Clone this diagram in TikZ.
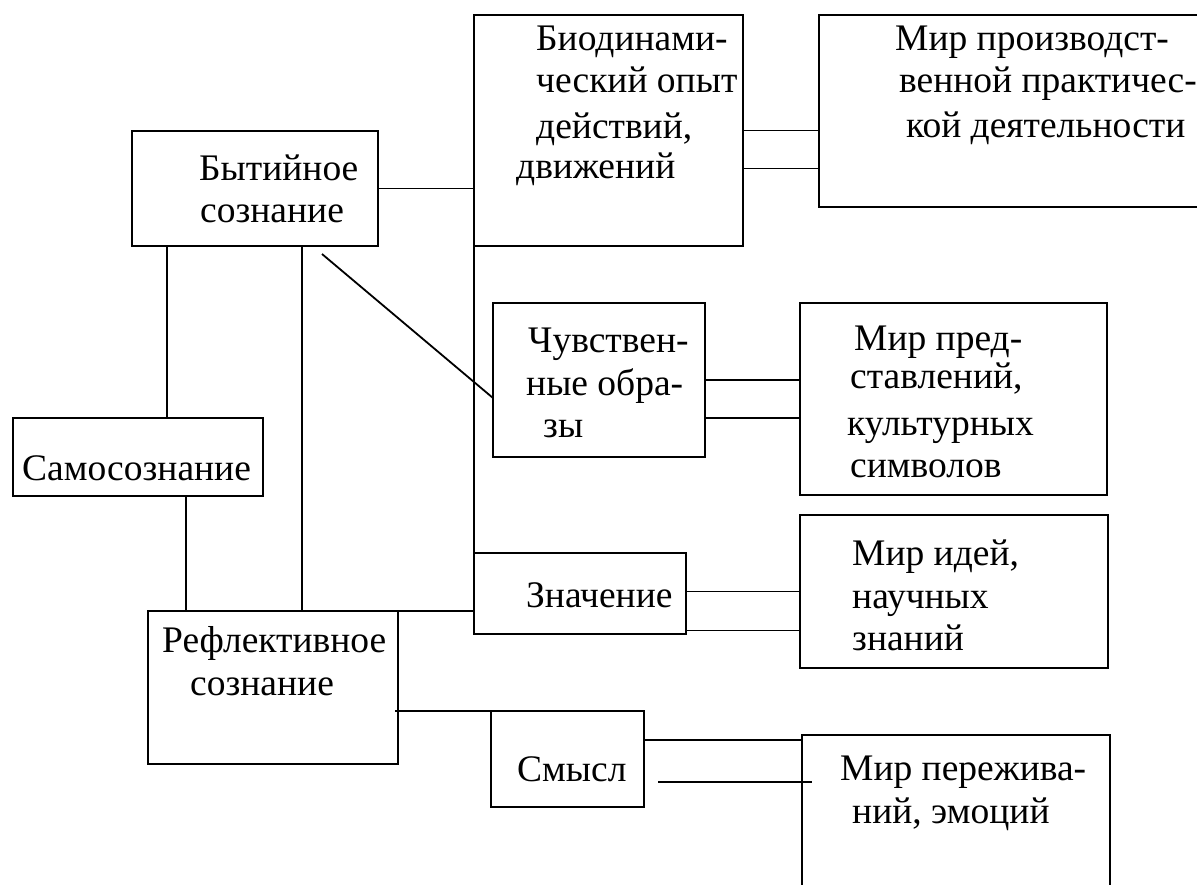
\documentclass[tikz,border=0pt]{standalone}
\usepackage{fontspec}
\setmainfont{Liberation Serif}
\usetikzlibrary{calc}
\begin{document}
\begin{tikzpicture}[x=1pt,y=-1pt,
  box/.style={draw,line width=1.8pt,inner sep=0pt,outer sep=0pt,anchor=north west},
  wire/.style={line width=1.8pt},
  txt/.style={inner sep=0pt,anchor=base west,font=\fontsize{37.5}{41}\selectfont}]
\clip (0,0) rectangle (1197,884);
\fill[white] (0,0) rectangle (1197,884);
% boxes
\node[box,minimum width=246pt,minimum height=115pt] (byt) at (132,131) {};
\node[box,minimum width=269pt,minimum height=231pt] (bio) at (474,15) {};
\node[box,minimum width=400pt,minimum height=192pt] (mirA) at (819,15) {};
\node[box,minimum width=212pt,minimum height=154pt] (chuv) at (493,303) {};
\node[box,minimum width=307pt,minimum height=192pt] (mirB) at (800,303) {};
\node[box,minimum width=250pt,minimum height=78pt] (samo) at (13,418) {};
\node[box,minimum width=250pt,minimum height=153pt] (refl) at (148,611) {};
\node[box,minimum width=212pt,minimum height=81pt] (znach) at (474,553) {};
\node[box,minimum width=308pt,minimum height=153pt] (mirC) at (800,515) {};
\node[box,minimum width=153pt,minimum height=96pt] (smysl) at (491,711) {};
\node[box,minimum width=308pt,minimum height=200pt] (mirD) at (802,735) {};
% texts
\node[txt] (t1) at (199,180) {Бытийное};
\node[txt] (t2) at (200,222) {сознание};
\node[txt] (t3) at (536,50) {Биодинами-};
\node[txt] (t4) at (536,92) {ческий опыт};
\node[txt] (t5) at (536,138) {действий,};
\node[txt] (t6) at (516,178) {движений};
\node[txt] (t7) at (895,50) {Мир производст-};
\node[txt] (t8) at (899,92) {венной практичес-};
\node[txt] (t9) at (906,137) {кой деятельности};
\node[txt] (t10) at (528,352) {Чувствен-};
\node[txt] (t11) at (526,395) {ные обра-};
\node[txt] (t12) at (543,437) {зы};
\node[txt] (t13) at (854,350) {Мир пред-};
\node[txt] (t14) at (850,388) {ставлений,};
\node[txt] (t15) at (847,435) {культурных};
\node[txt] (t16) at (850,477) {символов};
\node[txt] (t17) at (22,480) {Самосознание};
\node[txt] (t18) at (526,607) {Значение};
\node[txt] (t19) at (852,565) {Мир идей,};
\node[txt] (t20) at (852,608) {научных};
\node[txt] (t21) at (852,650) {знаний};
\node[txt] (t22) at (162,652) {Рефлективное};
\node[txt] (t23) at (190,695) {сознание};
\node[txt] (t24) at (517,781) {Смысл};
\node[txt] (t25) at (840,780) {Мир пережива-};
\node[txt] (t26) at (852,823) {ний, эмоций};
% helper coordinates
\coordinate (bioL) at ([yshift=-38pt]bio.east);
\coordinate (chuvR) at ([yshift=-38pt]chuv.east);
\coordinate (znU) at ([yshift=2pt]znach.east);
\coordinate (znL) at ([yshift=-37pt]znach.east);
\coordinate (bytA) at ([xshift=35pt]byt.south west);
\coordinate (bytB) at ([xshift=170pt]byt.south west);
\coordinate (samoB) at ([xshift=173pt]samo.south west);
\coordinate (d0) at (322,254);
\coordinate (d1) at ([yshift=-18pt]chuv.west);
\coordinate (rflS) at (395,711);
\coordinate (smU) at ([yshift=-29pt]smysl.north east);
\coordinate (smL0) at (658,782);
\coordinate (smL1) at (812,782);
% connectors
\draw[wire] (byt.east) -- (byt.east -| bio.west);
\draw[wire] (bio.east) -- (bio.east -| mirA.west);
\draw[wire] (bioL) -- (bioL -| mirA.west);
\draw[wire] (bio.south west) -- (znach.north west);
\draw[wire] (d0) -- (d1);
\draw[wire] (chuv.east) -- (chuv.east -| mirB.west);
\draw[wire] (chuvR) -- (chuvR -| mirB.west);
\draw[wire] (znU) -- (znU -| mirC.west);
\draw[wire] (znL) -- (znL -| mirC.west);
\draw[wire] (bytA) -- (bytA |- samo.north);
\draw[wire] (bytB) -- (bytB |- refl.north);
\draw[wire] (samoB) -- (samoB |- refl.north);
\draw[wire] (refl.north east) -- (refl.north east -| znach.west);
\draw[wire] (rflS) -- (smysl.north west);
\draw[wire] (smU) -- (smU -| mirD.west);
\draw[wire] (smL0) -- (smL1);
\end{tikzpicture}
\end{document}
